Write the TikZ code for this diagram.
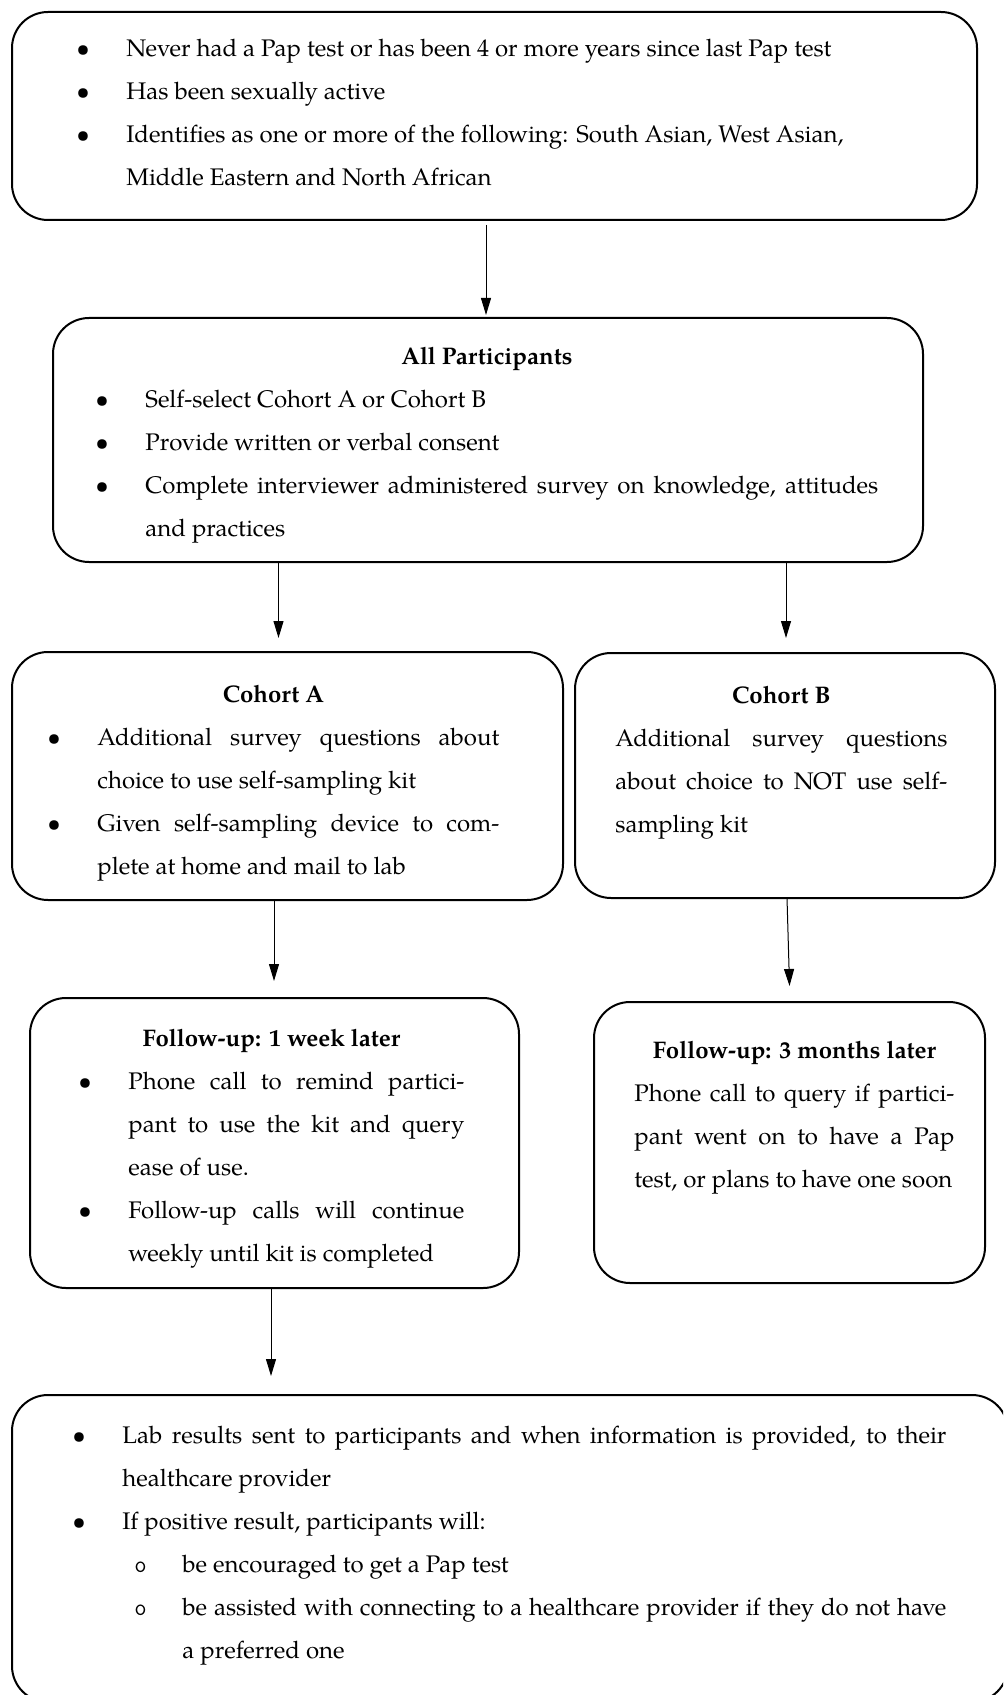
\documentclass[tikz,border=0pt]{standalone}
\usepackage{fontspec}
\setmainfont{TeX Gyre Pagella}
\usepackage{enumitem}
\usetikzlibrary{arrows.meta,positioning}

\setlist[itemize,1]{label=\textbullet, leftmargin=25pt, labelwidth=25pt, labelsep=0pt, align=left, nosep}
\setlist[itemize,2]{label={\ttfamily o}, leftmargin=30pt, labelwidth=24pt, labelsep=0pt, align=left, nosep}

\tikzset{
    stage/.style={draw, line width=1pt, rounded corners=18pt, inner sep=0pt, outer sep=0pt},
    txt/.style={anchor=base west, inner sep=0pt, text width=#1, align=justify,
        font=\fontsize{12}{21.5}\selectfont},
    link/.style={-{Triangle[width=5pt,length=8.5pt]}, line width=0.5pt},
}

\begin{document}
\begin{tikzpicture}[x=0.5pt, y=-0.5pt]
    \useasboundingbox (0,0) rectangle (1003,1695);
    \clip (0,0) rectangle (1003,1695);

    % boxes
    \node[stage, minimum width=482.5pt, minimum height=104pt] (crit) at (494.5,116) {};
    \node[stage, minimum width=435pt, minimum height=122pt] (allp) at (488,440) {};
    \node[stage, minimum width=275.5pt, minimum height=124pt] (cohA) at (287.5,776) {};
    \node[stage, minimum width=210pt, minimum height=122.5pt] (cohB) at (785,775.5) {};
    \node[stage, minimum width=244.5pt, minimum height=145pt] (fuA) at (274.5,1143) {};
    \node[stage, minimum width=195.5pt, minimum height=140.5pt] (fuB) at (789.5,1142.5) {};
    \node[stage, minimum width=498pt, minimum height=153.5pt] (lab) at (510,1548.5) {};

    % texts
    \node[txt=400pt] (critTxt) at ([shift={(64,2)}]crit.north west) {%
        \begin{itemize}
            \item Never had a Pap test or has been 4 or more years since last Pap test
            \item Has been sexually active
            \item Identifies as one or more of the following: South Asian, West Asian,\newline Middle Eastern and North African
        \end{itemize}};
    \node[txt=391.5pt] (allpTxt) at ([shift={(42,46.5)}]allp.north west) {%
        {\centering\bfseries All Participants\par}
        \begin{itemize}
            \item Self-select Cohort A or Cohort B
            \item Provide written or verbal consent
            \item Complete interviewer administered survey on knowledge, attitudes\linebreak and practices
        \end{itemize}};
    \node[txt=226pt] (cohATxt) at ([shift={(35,50)}]cohA.north west) {%
        {\centering\bfseries Cohort A\par}
        \begin{itemize}
            \item Additional survey questions about\linebreak choice to use self-sampling kit
            \item Given self-sampling device to com-\linebreak plete at home and mail to lab
        \end{itemize}};
    \node[txt=166pt] (cohBTxt) at ([shift={(40,50)}]cohB.north west) {%
        {\centering\bfseries Cohort B\par}
        Additional survey questions\linebreak about choice to NOT use self-\linebreak sampling kit};
    \node[txt=193pt] (fuATxt) at ([shift={(48,48)}]fuA.north west) {%
        {\centering\bfseries Follow-up: 1 week later\par}
        \begin{itemize}
            \item Phone call to remind partici-\linebreak pant to use the kit and query\linebreak ease of use.
            \item Follow-up calls will continue\linebreak weekly until kit is completed
        \end{itemize}};
    \node[txt=160pt] (fuBTxt) at ([shift={(40,56)}]fuB.north west) {%
        {\centering\bfseries Follow-up: 3 months later\par}
        Phone call to query if partici-\linebreak pant went on to have a Pap\linebreak test, or plans to have one soon};
    \node[txt=437pt] (labTxt) at ([shift={(60,5)}]lab.north west) {%
        \begin{itemize}
            \item Lab results sent to participants and when information is provided, to their\linebreak healthcare provider
            \item If positive result, participants will:
            \begin{itemize}
                \item be encouraged to get a Pap test
                \item be assisted with connecting to a healthcare provider if they do not have\linebreak a preferred one
            \end{itemize}
        \end{itemize}};

    % arrows
    \draw[link, shorten <=2.5pt, shorten >=1.5pt] ([xshift=-4.25pt]crit.south) -- ([xshift=-1pt]allp.north);
    \draw[link, shorten >=7pt] ([xshift=-104.75pt]allp.south) -- ([xshift=-4.5pt]cohA.north);
    \draw[link, shorten >=7.5pt] ([xshift=149pt]allp.south) -- ([xshift=0.5pt]cohB.north);
    \draw[link, shorten >=8.5pt] ([xshift=-6.75pt]cohA.south) -- ([xshift=-0.25pt]fuA.north);
    \draw[link, shorten >=8pt] ([xshift=1pt]cohB.south) -- ([xshift=0.25pt]fuB.north);
    \draw[link, shorten >=9.5pt] ([xshift=-1.75pt]fuA.south) -- ([xshift=-119.5pt]lab.north);
\end{tikzpicture}
\end{document}
